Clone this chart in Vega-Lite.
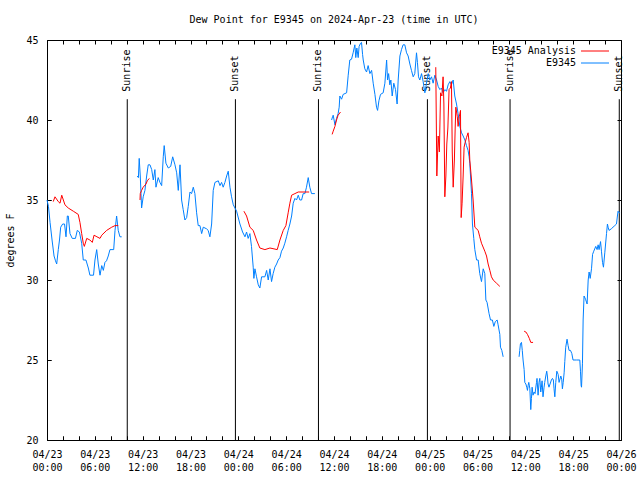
{
  "$schema": "https://vega.github.io/schema/vega-lite/v6.json",
  "width": 574,
  "height": 400,
  "autosize": "none",
  "padding": {"left": 47, "top": 40, "right": 19, "bottom": 40},
  "background": "white",
  "title": {"text": "Dew Point for E9345 on 2024-Apr-23 (time in UTC)", "font": "DejaVu Sans Mono", "fontSize": 10, "fontWeight": "normal", "color": "black", "anchor": "middle", "offset": 10},
  "config": {
    "view": {"stroke": "black", "strokeWidth": 1},
    "font": "DejaVu Sans Mono",
    "axis": {"domain": false, "grid": false, "tickColor": "black", "tickSize": -4, "tickWidth": 1, "labelColor": "black", "labelFont": "DejaVu Sans Mono", "labelFontSize": 10, "titleFont": "DejaVu Sans Mono", "titleFontSize": 10, "titleFontWeight": "normal", "titleColor": "black"}
  },
  "datasets": {
    "obs": [
      {"g":1,"t":"2024-04-23T00:00Z","v":35.0},{"g":1,"t":"2024-04-23T00:11Z","v":34.6},{"g":1,"t":"2024-04-23T00:23Z","v":33.6},{"g":1,"t":"2024-04-23T00:38Z","v":32.5},{"g":1,"t":"2024-04-23T00:53Z","v":31.5},{"g":1,"t":"2024-04-23T01:04Z","v":31.2},{"g":1,"t":"2024-04-23T01:13Z","v":31.0},{"g":1,"t":"2024-04-23T01:25Z","v":31.9},{"g":1,"t":"2024-04-23T01:34Z","v":32.5},{"g":1,"t":"2024-04-23T01:43Z","v":33.3},{"g":1,"t":"2024-04-23T01:58Z","v":33.5},{"g":1,"t":"2024-04-23T02:12Z","v":33.5},{"g":1,"t":"2024-04-23T02:23Z","v":32.7},{"g":1,"t":"2024-04-23T02:33Z","v":34.0},{"g":1,"t":"2024-04-23T02:40Z","v":34.0},{"g":1,"t":"2024-04-23T02:53Z","v":32.9},{"g":1,"t":"2024-04-23T03:10Z","v":32.6},{"g":1,"t":"2024-04-23T03:34Z","v":32.6},{"g":1,"t":"2024-04-23T03:48Z","v":33.1},{"g":1,"t":"2024-04-23T04:04Z","v":33.0},{"g":1,"t":"2024-04-23T04:21Z","v":32.3},{"g":1,"t":"2024-04-23T04:33Z","v":31.25},{"g":1,"t":"2024-04-23T04:53Z","v":31.25},{"g":1,"t":"2024-04-23T05:11Z","v":30.75},{"g":1,"t":"2024-04-23T05:23Z","v":30.3},{"g":1,"t":"2024-04-23T05:50Z","v":30.3},{"g":1,"t":"2024-04-23T06:01Z","v":31.25},{"g":1,"t":"2024-04-23T06:14Z","v":31.9},{"g":1,"t":"2024-04-23T06:26Z","v":31.0},{"g":1,"t":"2024-04-23T06:39Z","v":30.3},{"g":1,"t":"2024-04-23T06:52Z","v":30.9},{"g":1,"t":"2024-04-23T07:04Z","v":30.6},{"g":1,"t":"2024-04-23T07:16Z","v":31.1},{"g":1,"t":"2024-04-23T07:28Z","v":31.2},{"g":1,"t":"2024-04-23T07:41Z","v":31.5},{"g":1,"t":"2024-04-23T07:54Z","v":31.9},{"g":1,"t":"2024-04-23T08:22Z","v":31.9},{"g":1,"t":"2024-04-23T08:32Z","v":33.1},{"g":1,"t":"2024-04-23T08:44Z","v":34.0},{"g":1,"t":"2024-04-23T08:56Z","v":33.1},{"g":1,"t":"2024-04-23T09:09Z","v":32.7},{"g":1,"t":"2024-04-23T09:22Z","v":32.7},
      {"g":2,"t":"2024-04-23T11:19Z","v":36.5},{"g":2,"t":"2024-04-23T11:28Z","v":36.4},{"g":2,"t":"2024-04-23T11:34Z","v":37.6},{"g":2,"t":"2024-04-23T11:42Z","v":36.5},{"g":2,"t":"2024-04-23T11:52Z","v":34.5},{"g":2,"t":"2024-04-23T12:04Z","v":35.2},{"g":2,"t":"2024-04-23T12:17Z","v":35.6},{"g":2,"t":"2024-04-23T12:30Z","v":36.5},{"g":2,"t":"2024-04-23T12:42Z","v":37.2},{"g":2,"t":"2024-04-23T12:55Z","v":37.2},{"g":2,"t":"2024-04-23T13:08Z","v":36.9},{"g":2,"t":"2024-04-23T13:20Z","v":36.25},{"g":2,"t":"2024-04-23T13:32Z","v":36.9},{"g":2,"t":"2024-04-23T13:40Z","v":35.8},{"g":2,"t":"2024-04-23T13:57Z","v":36.4},{"g":2,"t":"2024-04-23T14:10Z","v":36.1},{"g":2,"t":"2024-04-23T14:23Z","v":35.9},{"g":2,"t":"2024-04-23T14:35Z","v":37.7},{"g":2,"t":"2024-04-23T14:42Z","v":38.4},{"g":2,"t":"2024-04-23T14:55Z","v":37.3},{"g":2,"t":"2024-04-23T15:13Z","v":37.0},{"g":2,"t":"2024-04-23T15:31Z","v":37.1},{"g":2,"t":"2024-04-23T15:46Z","v":37.7},{"g":2,"t":"2024-04-23T16:03Z","v":37.2},{"g":2,"t":"2024-04-23T16:16Z","v":36.7},{"g":2,"t":"2024-04-23T16:28Z","v":35.6},{"g":2,"t":"2024-04-23T16:41Z","v":37.2},{"g":2,"t":"2024-04-23T16:53Z","v":35.0},{"g":2,"t":"2024-04-23T17:05Z","v":34.4},{"g":2,"t":"2024-04-23T17:18Z","v":33.75},{"g":2,"t":"2024-04-23T17:31Z","v":33.9},{"g":2,"t":"2024-04-23T17:43Z","v":34.6},{"g":2,"t":"2024-04-23T17:56Z","v":35.5},{"g":2,"t":"2024-04-23T18:08Z","v":35.4},{"g":2,"t":"2024-04-23T18:21Z","v":35.8},{"g":2,"t":"2024-04-23T18:33Z","v":35.4},{"g":2,"t":"2024-04-23T18:46Z","v":34.2},{"g":2,"t":"2024-04-23T18:58Z","v":33.4},{"g":2,"t":"2024-04-23T19:11Z","v":33.4},{"g":2,"t":"2024-04-23T19:24Z","v":32.9},{"g":2,"t":"2024-04-23T19:36Z","v":33.3},{"g":2,"t":"2024-04-23T20:01Z","v":33.2},{"g":2,"t":"2024-04-23T20:13Z","v":33.1},{"g":2,"t":"2024-04-23T20:26Z","v":32.7},{"g":2,"t":"2024-04-23T20:39Z","v":33.5},{"g":2,"t":"2024-04-23T20:51Z","v":35.6},{"g":2,"t":"2024-04-23T21:04Z","v":36.1},{"g":2,"t":"2024-04-23T21:29Z","v":36.2},{"g":2,"t":"2024-04-23T21:42Z","v":35.9},{"g":2,"t":"2024-04-23T21:54Z","v":36.1},{"g":2,"t":"2024-04-23T22:06Z","v":35.8},{"g":2,"t":"2024-04-23T22:19Z","v":36.1},{"g":2,"t":"2024-04-23T22:32Z","v":36.5},{"g":2,"t":"2024-04-23T22:44Z","v":36.8},{"g":2,"t":"2024-04-23T22:57Z","v":35.8},{"g":2,"t":"2024-04-23T23:09Z","v":35.2},{"g":2,"t":"2024-04-23T23:22Z","v":34.7},{"g":2,"t":"2024-04-23T23:47Z","v":34.3},{"g":2,"t":"2024-04-24T00:12Z","v":33.5},{"g":2,"t":"2024-04-24T00:32Z","v":33.0},{"g":2,"t":"2024-04-24T00:50Z","v":32.7},{"g":2,"t":"2024-04-24T01:02Z","v":33.0},{"g":2,"t":"2024-04-24T01:14Z","v":32.6},{"g":2,"t":"2024-04-24T01:27Z","v":32.9},{"g":2,"t":"2024-04-24T01:39Z","v":32.1},{"g":2,"t":"2024-04-24T01:52Z","v":30.8},{"g":2,"t":"2024-04-24T01:57Z","v":30.1},{"g":2,"t":"2024-04-24T02:05Z","v":30.7},{"g":2,"t":"2024-04-24T02:17Z","v":30.2},{"g":2,"t":"2024-04-24T02:30Z","v":29.7},{"g":2,"t":"2024-04-24T02:42Z","v":29.5},{"g":2,"t":"2024-04-24T02:55Z","v":30.2},{"g":2,"t":"2024-04-24T03:20Z","v":30.2},{"g":2,"t":"2024-04-24T03:33Z","v":30.6},{"g":2,"t":"2024-04-24T03:45Z","v":30.0},{"g":2,"t":"2024-04-24T03:58Z","v":30.7},{"g":2,"t":"2024-04-24T04:10Z","v":29.9},{"g":2,"t":"2024-04-24T04:22Z","v":30.4},{"g":2,"t":"2024-04-24T04:35Z","v":30.8},{"g":2,"t":"2024-04-24T04:48Z","v":31.0},{"g":2,"t":"2024-04-24T05:00Z","v":31.25},{"g":2,"t":"2024-04-24T05:13Z","v":31.4},{"g":2,"t":"2024-04-24T05:25Z","v":31.8},{"g":2,"t":"2024-04-24T05:38Z","v":32.0},{"g":2,"t":"2024-04-24T05:50Z","v":32.3},{"g":2,"t":"2024-04-24T06:03Z","v":32.7},{"g":2,"t":"2024-04-24T06:15Z","v":33.1},{"g":2,"t":"2024-04-24T06:28Z","v":33.5},{"g":2,"t":"2024-04-24T06:41Z","v":34.0},{"g":2,"t":"2024-04-24T06:53Z","v":34.8},{"g":2,"t":"2024-04-24T07:06Z","v":35.1},{"g":2,"t":"2024-04-24T07:18Z","v":35.0},{"g":2,"t":"2024-04-24T07:31Z","v":35.3},{"g":2,"t":"2024-04-24T07:43Z","v":35.0},{"g":2,"t":"2024-04-24T07:56Z","v":35.0},{"g":2,"t":"2024-04-24T08:08Z","v":35.4},{"g":2,"t":"2024-04-24T08:21Z","v":35.4},{"g":2,"t":"2024-04-24T08:33Z","v":35.8},{"g":2,"t":"2024-04-24T08:46Z","v":36.4},{"g":2,"t":"2024-04-24T08:58Z","v":35.8},{"g":2,"t":"2024-04-24T09:11Z","v":35.4},{"g":2,"t":"2024-04-24T09:36Z","v":35.4},
      {"g":3,"t":"2024-04-24T11:42Z","v":40.0},{"g":3,"t":"2024-04-24T11:49Z","v":40.2},{"g":3,"t":"2024-04-24T11:54Z","v":40.3},{"g":3,"t":"2024-04-24T12:07Z","v":39.7},{"g":3,"t":"2024-04-24T12:19Z","v":40.1},{"g":3,"t":"2024-04-24T12:31Z","v":40.4},{"g":3,"t":"2024-04-24T12:39Z","v":40.8},{"g":3,"t":"2024-04-24T12:44Z","v":41.5},{"g":3,"t":"2024-04-24T12:57Z","v":41.3},{"g":3,"t":"2024-04-24T13:09Z","v":41.6},{"g":3,"t":"2024-04-24T13:35Z","v":41.7},{"g":3,"t":"2024-04-24T13:47Z","v":42.8},{"g":3,"t":"2024-04-24T13:59Z","v":43.75},{"g":3,"t":"2024-04-24T14:12Z","v":43.8},{"g":3,"t":"2024-04-24T14:24Z","v":44.2},{"g":3,"t":"2024-04-24T14:37Z","v":44.7},{"g":3,"t":"2024-04-24T14:44Z","v":43.9},{"g":3,"t":"2024-04-24T14:52Z","v":44.5},{"g":3,"t":"2024-04-24T15:02Z","v":43.9},{"g":3,"t":"2024-04-24T15:09Z","v":44.6},{"g":3,"t":"2024-04-24T15:20Z","v":44.8},{"g":3,"t":"2024-04-24T15:27Z","v":44.85},{"g":3,"t":"2024-04-24T15:35Z","v":44.1},{"g":3,"t":"2024-04-24T15:40Z","v":43.75},{"g":3,"t":"2024-04-24T15:52Z","v":43.2},{"g":3,"t":"2024-04-24T16:05Z","v":43.0},{"g":3,"t":"2024-04-24T16:17Z","v":43.4},{"g":3,"t":"2024-04-24T16:30Z","v":42.9},{"g":3,"t":"2024-04-24T16:43Z","v":43.1},{"g":3,"t":"2024-04-24T16:55Z","v":42.3},{"g":3,"t":"2024-04-24T17:08Z","v":41.6},{"g":3,"t":"2024-04-24T17:20Z","v":40.8},{"g":3,"t":"2024-04-24T17:28Z","v":40.6},{"g":3,"t":"2024-04-24T17:38Z","v":41.2},{"g":3,"t":"2024-04-24T17:50Z","v":41.6},{"g":3,"t":"2024-04-24T18:10Z","v":41.7},{"g":3,"t":"2024-04-24T18:23Z","v":42.3},{"g":3,"t":"2024-04-24T18:36Z","v":43.75},{"g":3,"t":"2024-04-24T18:43Z","v":42.5},{"g":3,"t":"2024-04-24T18:51Z","v":42.9},{"g":3,"t":"2024-04-24T19:00Z","v":42.2},{"g":3,"t":"2024-04-24T19:08Z","v":42.5},{"g":3,"t":"2024-04-24T19:18Z","v":41.5},{"g":3,"t":"2024-04-24T19:30Z","v":42.3},{"g":3,"t":"2024-04-24T19:43Z","v":41.9},{"g":3,"t":"2024-04-24T19:55Z","v":41.0},{"g":3,"t":"2024-04-24T20:03Z","v":42.5},{"g":3,"t":"2024-04-24T20:16Z","v":44.0},{"g":3,"t":"2024-04-24T20:28Z","v":44.4},{"g":3,"t":"2024-04-24T20:40Z","v":44.7},{"g":3,"t":"2024-04-24T20:53Z","v":44.7},{"g":3,"t":"2024-04-24T21:06Z","v":44.2},{"g":3,"t":"2024-04-24T21:18Z","v":44.0},{"g":3,"t":"2024-04-24T21:31Z","v":43.5},{"g":3,"t":"2024-04-24T21:43Z","v":43.1},{"g":3,"t":"2024-04-24T21:56Z","v":42.7},{"g":3,"t":"2024-04-24T22:08Z","v":42.9},{"g":3,"t":"2024-04-24T22:21Z","v":44.2},{"g":3,"t":"2024-04-24T22:28Z","v":43.6},{"g":3,"t":"2024-04-24T22:36Z","v":42.7},{"g":3,"t":"2024-04-24T22:46Z","v":42.5},{"g":3,"t":"2024-04-24T22:59Z","v":42.9},{"g":3,"t":"2024-04-24T23:11Z","v":42.4},{"g":3,"t":"2024-04-24T23:24Z","v":41.7},{"g":3,"t":"2024-04-24T23:36Z","v":42.3},{"g":3,"t":"2024-04-24T23:49Z","v":42.9},{"g":3,"t":"2024-04-25T00:01Z","v":42.5},{"g":3,"t":"2024-04-25T00:14Z","v":42.7},{"g":3,"t":"2024-04-25T00:26Z","v":42.3},{"g":3,"t":"2024-04-25T00:39Z","v":42.8},{"g":3,"t":"2024-04-25T00:52Z","v":42.5},{"g":3,"t":"2024-04-25T01:04Z","v":42.1},{"g":3,"t":"2024-04-25T01:17Z","v":41.9},{"g":3,"t":"2024-04-25T01:29Z","v":42.0},{"g":3,"t":"2024-04-25T01:41Z","v":41.7},{"g":3,"t":"2024-04-25T01:54Z","v":41.9},{"g":3,"t":"2024-04-25T02:07Z","v":41.8},{"g":3,"t":"2024-04-25T02:19Z","v":42.2},{"g":3,"t":"2024-04-25T02:32Z","v":42.4},{"g":3,"t":"2024-04-25T02:44Z","v":42.2},{"g":3,"t":"2024-04-25T02:57Z","v":42.5},{"g":3,"t":"2024-04-25T03:09Z","v":41.5},{"g":3,"t":"2024-04-25T03:22Z","v":41.0},{"g":3,"t":"2024-04-25T03:34Z","v":40.4},{"g":3,"t":"2024-04-25T03:47Z","v":39.6},{"g":3,"t":"2024-04-25T04:00Z","v":39.2},{"g":3,"t":"2024-04-25T04:12Z","v":39.0},{"g":3,"t":"2024-04-25T04:25Z","v":38.75},{"g":3,"t":"2024-04-25T04:37Z","v":38.4},{"g":3,"t":"2024-04-25T04:49Z","v":38.1},{"g":3,"t":"2024-04-25T04:57Z","v":37.7},{"g":3,"t":"2024-04-25T05:02Z","v":37.3},{"g":3,"t":"2024-04-25T05:15Z","v":35.4},{"g":3,"t":"2024-04-25T05:22Z","v":33.5},{"g":3,"t":"2024-04-25T05:32Z","v":32.6},{"g":3,"t":"2024-04-25T05:40Z","v":31.9},{"g":3,"t":"2024-04-25T05:53Z","v":31.25},{"g":3,"t":"2024-04-25T06:05Z","v":31.25},{"g":3,"t":"2024-04-25T06:17Z","v":30.4},{"g":3,"t":"2024-04-25T06:30Z","v":29.9},{"g":3,"t":"2024-04-25T06:43Z","v":30.7},{"g":3,"t":"2024-04-25T06:55Z","v":30.4},{"g":3,"t":"2024-04-25T07:03Z","v":28.75},{"g":3,"t":"2024-04-25T07:12Z","v":28.6},{"g":3,"t":"2024-04-25T07:27Z","v":27.9},{"g":3,"t":"2024-04-25T07:38Z","v":27.5},{"g":3,"t":"2024-04-25T07:52Z","v":27.5},{"g":3,"t":"2024-04-25T08:03Z","v":27.1},{"g":3,"t":"2024-04-25T08:14Z","v":27.4},{"g":3,"t":"2024-04-25T08:28Z","v":27.5},{"g":3,"t":"2024-04-25T08:35Z","v":27.2},{"g":3,"t":"2024-04-25T08:48Z","v":26.6},{"g":3,"t":"2024-04-25T08:53Z","v":25.8},{"g":3,"t":"2024-04-25T09:03Z","v":25.6},{"g":3,"t":"2024-04-25T09:13Z","v":25.2},
      {"g":4,"t":"2024-04-25T11:13Z","v":25.2},{"g":4,"t":"2024-04-25T11:18Z","v":25.6},{"g":4,"t":"2024-04-25T11:23Z","v":26.0},{"g":4,"t":"2024-04-25T11:31Z","v":26.1},{"g":4,"t":"2024-04-25T11:37Z","v":25.6},{"g":4,"t":"2024-04-25T11:43Z","v":25.0},{"g":4,"t":"2024-04-25T11:51Z","v":24.4},{"g":4,"t":"2024-04-25T11:56Z","v":23.6},{"g":4,"t":"2024-04-25T12:04Z","v":23.5},{"g":4,"t":"2024-04-25T12:11Z","v":23.3},{"g":4,"t":"2024-04-25T12:16Z","v":23.1},{"g":4,"t":"2024-04-25T12:21Z","v":23.4},{"g":4,"t":"2024-04-25T12:26Z","v":23.6},{"g":4,"t":"2024-04-25T12:34Z","v":23.2},{"g":4,"t":"2024-04-25T12:41Z","v":21.9},{"g":4,"t":"2024-04-25T12:46Z","v":22.6},{"g":4,"t":"2024-04-25T12:51Z","v":23.3},{"g":4,"t":"2024-04-25T12:58Z","v":22.8},{"g":4,"t":"2024-04-25T13:06Z","v":23.0},{"g":4,"t":"2024-04-25T13:13Z","v":22.9},{"g":4,"t":"2024-04-25T13:24Z","v":23.6},{"g":4,"t":"2024-04-25T13:28Z","v":23.85},{"g":4,"t":"2024-04-25T13:36Z","v":22.8},{"g":4,"t":"2024-04-25T13:43Z","v":23.6},{"g":4,"t":"2024-04-25T13:49Z","v":23.85},{"g":4,"t":"2024-04-25T13:56Z","v":23.0},{"g":4,"t":"2024-04-25T14:01Z","v":23.3},{"g":4,"t":"2024-04-25T14:06Z","v":23.7},{"g":4,"t":"2024-04-25T14:13Z","v":22.7},{"g":4,"t":"2024-04-25T14:21Z","v":23.3},{"g":4,"t":"2024-04-25T14:26Z","v":23.6},{"g":4,"t":"2024-04-25T14:34Z","v":24.0},{"g":4,"t":"2024-04-25T14:41Z","v":24.3},{"g":4,"t":"2024-04-25T14:46Z","v":24.0},{"g":4,"t":"2024-04-25T14:51Z","v":23.5},{"g":4,"t":"2024-04-25T14:58Z","v":23.3},{"g":4,"t":"2024-04-25T15:06Z","v":23.5},{"g":4,"t":"2024-04-25T15:16Z","v":23.75},{"g":4,"t":"2024-04-25T15:24Z","v":23.85},{"g":4,"t":"2024-04-25T15:31Z","v":23.75},{"g":4,"t":"2024-04-25T15:36Z","v":23.2},{"g":4,"t":"2024-04-25T15:42Z","v":22.7},{"g":4,"t":"2024-04-25T15:49Z","v":23.6},{"g":4,"t":"2024-04-25T15:57Z","v":24.3},{"g":4,"t":"2024-04-25T16:07Z","v":24.1},{"g":4,"t":"2024-04-25T16:14Z","v":23.6},{"g":4,"t":"2024-04-25T16:19Z","v":23.75},{"g":4,"t":"2024-04-25T16:27Z","v":24.0},{"g":4,"t":"2024-04-25T16:34Z","v":23.8},{"g":4,"t":"2024-04-25T16:39Z","v":23.2},{"g":4,"t":"2024-04-25T16:45Z","v":23.6},{"g":4,"t":"2024-04-25T16:52Z","v":24.2},{"g":4,"t":"2024-04-25T16:57Z","v":24.9},{"g":4,"t":"2024-04-25T17:04Z","v":25.8},{"g":4,"t":"2024-04-25T17:14Z","v":26.3},{"g":4,"t":"2024-04-25T17:22Z","v":25.9},{"g":4,"t":"2024-04-25T17:29Z","v":25.6},{"g":4,"t":"2024-04-25T17:40Z","v":25.6},{"g":4,"t":"2024-04-25T17:50Z","v":25.4},{"g":4,"t":"2024-04-25T17:59Z","v":25.0},{"g":4,"t":"2024-04-25T18:25Z","v":25.0},{"g":4,"t":"2024-04-25T18:50Z","v":25.0},{"g":4,"t":"2024-04-25T18:55Z","v":24.3},{"g":4,"t":"2024-04-25T19:00Z","v":23.4},{"g":4,"t":"2024-04-25T19:03Z","v":23.3},{"g":4,"t":"2024-04-25T19:10Z","v":24.8},{"g":4,"t":"2024-04-25T19:15Z","v":27.5},{"g":4,"t":"2024-04-25T19:22Z","v":29.0},{"g":4,"t":"2024-04-25T19:33Z","v":28.8},{"g":4,"t":"2024-04-25T19:45Z","v":28.5},{"g":4,"t":"2024-04-25T19:53Z","v":30.0},{"g":4,"t":"2024-04-25T20:00Z","v":30.5},{"g":4,"t":"2024-04-25T20:08Z","v":30.1},{"g":4,"t":"2024-04-25T20:18Z","v":30.7},{"g":4,"t":"2024-04-25T20:26Z","v":31.6},{"g":4,"t":"2024-04-25T20:35Z","v":31.8},{"g":4,"t":"2024-04-25T20:50Z","v":32.1},{"g":4,"t":"2024-04-25T21:00Z","v":31.9},{"g":4,"t":"2024-04-25T21:08Z","v":32.2},{"g":4,"t":"2024-04-25T21:15Z","v":31.9},{"g":4,"t":"2024-04-25T21:26Z","v":32.4},{"g":4,"t":"2024-04-25T21:33Z","v":31.8},{"g":4,"t":"2024-04-25T21:41Z","v":31.1},{"g":4,"t":"2024-04-25T21:48Z","v":30.8},{"g":4,"t":"2024-04-25T21:58Z","v":31.7},{"g":4,"t":"2024-04-25T22:11Z","v":32.9},{"g":4,"t":"2024-04-25T22:18Z","v":33.5},{"g":4,"t":"2024-04-25T22:23Z","v":33.3},{"g":4,"t":"2024-04-25T22:30Z","v":33.1},{"g":4,"t":"2024-04-25T22:47Z","v":33.2},{"g":4,"t":"2024-04-25T23:00Z","v":33.3},{"g":4,"t":"2024-04-25T23:13Z","v":33.4},{"g":4,"t":"2024-04-25T23:26Z","v":33.5},{"g":4,"t":"2024-04-25T23:33Z","v":34.0},{"g":4,"t":"2024-04-25T23:38Z","v":34.3},{"g":4,"t":"2024-04-25T23:46Z","v":34.2},{"g":4,"t":"2024-04-25T23:53Z","v":34.2}
    ],
    "ana": [
      {"g":1,"t":"2024-04-23T00:47Z","v":34.9},{"g":1,"t":"2024-04-23T01:00Z","v":35.2},{"g":1,"t":"2024-04-23T01:25Z","v":34.9},{"g":1,"t":"2024-04-23T01:38Z","v":34.8},{"g":1,"t":"2024-04-23T01:51Z","v":35.3},{"g":1,"t":"2024-04-23T02:15Z","v":34.7},{"g":1,"t":"2024-04-23T02:40Z","v":34.5},{"g":1,"t":"2024-04-23T03:18Z","v":34.3},{"g":1,"t":"2024-04-23T03:55Z","v":34.1},{"g":1,"t":"2024-04-23T04:08Z","v":33.6},{"g":1,"t":"2024-04-23T04:21Z","v":32.9},{"g":1,"t":"2024-04-23T04:33Z","v":32.3},{"g":1,"t":"2024-04-23T04:41Z","v":32.1},{"g":1,"t":"2024-04-23T04:59Z","v":32.6},{"g":1,"t":"2024-04-23T05:23Z","v":32.5},{"g":1,"t":"2024-04-23T05:41Z","v":32.35},{"g":1,"t":"2024-04-23T05:54Z","v":32.8},{"g":1,"t":"2024-04-23T06:16Z","v":32.7},{"g":1,"t":"2024-04-23T06:39Z","v":32.6},{"g":1,"t":"2024-04-23T06:52Z","v":32.8},{"g":1,"t":"2024-04-23T07:29Z","v":33.1},{"g":1,"t":"2024-04-23T08:07Z","v":33.3},{"g":1,"t":"2024-04-23T08:32Z","v":33.4},{"g":1,"t":"2024-04-23T08:56Z","v":33.4},
      {"g":2,"t":"2024-04-23T11:40Z","v":35.0},{"g":2,"t":"2024-04-23T11:42Z","v":35.4},{"g":2,"t":"2024-04-23T11:52Z","v":35.6},{"g":2,"t":"2024-04-23T12:04Z","v":35.8},{"g":2,"t":"2024-04-23T12:25Z","v":36.0},{"g":2,"t":"2024-04-23T12:35Z","v":36.2},{"g":2,"t":"2024-04-23T12:50Z","v":36.35},
      {"g":3,"t":"2024-04-24T00:42Z","v":34.3},{"g":3,"t":"2024-04-24T01:02Z","v":34.0},{"g":3,"t":"2024-04-24T01:27Z","v":33.3},{"g":3,"t":"2024-04-24T01:52Z","v":33.1},{"g":3,"t":"2024-04-24T02:17Z","v":32.5},{"g":3,"t":"2024-04-24T02:42Z","v":32.0},{"g":3,"t":"2024-04-24T03:20Z","v":31.9},{"g":3,"t":"2024-04-24T03:58Z","v":32.0},{"g":3,"t":"2024-04-24T04:53Z","v":31.9},{"g":3,"t":"2024-04-24T05:13Z","v":32.5},{"g":3,"t":"2024-04-24T05:38Z","v":33.1},{"g":3,"t":"2024-04-24T05:58Z","v":33.4},{"g":3,"t":"2024-04-24T06:15Z","v":34.2},{"g":3,"t":"2024-04-24T06:28Z","v":34.8},{"g":3,"t":"2024-04-24T06:41Z","v":35.3},{"g":3,"t":"2024-04-24T07:06Z","v":35.4},{"g":3,"t":"2024-04-24T07:31Z","v":35.5},{"g":3,"t":"2024-04-24T08:53Z","v":35.5},
      {"g":4,"t":"2024-04-24T11:46Z","v":39.1},{"g":4,"t":"2024-04-24T11:54Z","v":39.3},{"g":4,"t":"2024-04-24T12:07Z","v":39.6},{"g":4,"t":"2024-04-24T12:19Z","v":40.0},{"g":4,"t":"2024-04-24T12:31Z","v":40.3},{"g":4,"t":"2024-04-24T12:49Z","v":40.5},
      {"g":5,"t":"2024-04-25T00:46Z","v":43.3},{"g":5,"t":"2024-04-25T00:54Z","v":36.5},{"g":5,"t":"2024-04-25T01:04Z","v":39.0},{"g":5,"t":"2024-04-25T01:13Z","v":38.0},{"g":5,"t":"2024-04-25T01:22Z","v":41.7},{"g":5,"t":"2024-04-25T01:32Z","v":41.5},{"g":5,"t":"2024-04-25T01:41Z","v":42.7},{"g":5,"t":"2024-04-25T01:47Z","v":41.0},{"g":5,"t":"2024-04-25T01:54Z","v":35.2},{"g":5,"t":"2024-04-25T02:02Z","v":36.5},{"g":5,"t":"2024-04-25T02:09Z","v":38.5},{"g":5,"t":"2024-04-25T02:17Z","v":39.5},{"g":5,"t":"2024-04-25T02:26Z","v":41.9},{"g":5,"t":"2024-04-25T02:36Z","v":42.0},{"g":5,"t":"2024-04-25T02:44Z","v":42.4},{"g":5,"t":"2024-04-25T02:50Z","v":38.0},{"g":5,"t":"2024-04-25T02:57Z","v":35.8},{"g":5,"t":"2024-04-25T03:06Z","v":37.5},{"g":5,"t":"2024-04-25T03:12Z","v":39.5},{"g":5,"t":"2024-04-25T03:17Z","v":40.8},{"g":5,"t":"2024-04-25T03:28Z","v":40.2},{"g":5,"t":"2024-04-25T03:34Z","v":39.6},{"g":5,"t":"2024-04-25T03:43Z","v":40.2},{"g":5,"t":"2024-04-25T03:52Z","v":40.6},{"g":5,"t":"2024-04-25T03:57Z","v":33.9},{"g":5,"t":"2024-04-25T04:04Z","v":34.8},{"g":5,"t":"2024-04-25T04:12Z","v":36.5},{"g":5,"t":"2024-04-25T04:19Z","v":38.3},{"g":5,"t":"2024-04-25T04:27Z","v":38.6},{"g":5,"t":"2024-04-25T04:37Z","v":38.9},{"g":5,"t":"2024-04-25T04:49Z","v":39.2},{"g":5,"t":"2024-04-25T04:57Z","v":38.6},{"g":5,"t":"2024-04-25T05:02Z","v":37.5},{"g":5,"t":"2024-04-25T05:15Z","v":36.25},{"g":5,"t":"2024-04-25T05:27Z","v":35.0},{"g":5,"t":"2024-04-25T05:40Z","v":33.3},{"g":5,"t":"2024-04-25T06:05Z","v":33.1},{"g":5,"t":"2024-04-25T06:17Z","v":32.7},{"g":5,"t":"2024-04-25T06:30Z","v":32.3},{"g":5,"t":"2024-04-25T06:55Z","v":31.8},{"g":5,"t":"2024-04-25T07:08Z","v":31.5},{"g":5,"t":"2024-04-25T07:20Z","v":31.0},{"g":5,"t":"2024-04-25T07:33Z","v":30.6},{"g":5,"t":"2024-04-25T07:45Z","v":30.2},{"g":5,"t":"2024-04-25T07:58Z","v":30.0},{"g":5,"t":"2024-04-25T08:23Z","v":29.8},{"g":5,"t":"2024-04-25T08:48Z","v":29.6},
      {"g":6,"t":"2024-04-25T11:51Z","v":26.8},{"g":6,"t":"2024-04-25T12:04Z","v":26.75},{"g":6,"t":"2024-04-25T12:16Z","v":26.6},{"g":6,"t":"2024-04-25T12:30Z","v":26.35},{"g":6,"t":"2024-04-25T12:41Z","v":26.1},{"g":6,"t":"2024-04-25T12:58Z","v":26.1}
    ],
    "sun": [
      {"t":"2024-04-23T10:04Z","e":"Sunrise"},{"t":"2024-04-23T23:38Z","e":"Sunset"},{"t":"2024-04-24T10:03Z","e":"Sunrise"},{"t":"2024-04-24T23:43Z","e":"Sunset"},{"t":"2024-04-25T10:05Z","e":"Sunrise"},{"t":"2024-04-25T23:47Z","e":"Sunset"}
    ]
  },
  "layer": [
    {
      "data": {"name": "sun"},
      "mark": {"type": "rule", "color": "black", "strokeWidth": 1},
      "encoding": {
        "x": {"field": "t", "type": "temporal"},
        "y": {"datum": 20, "type": "quantitative"},
        "y2": {"datum": 41.3}
      }
    },
    {
      "data": {"name": "sun"},
      "mark": {"type": "text", "angle": 270, "align": "left", "baseline": "middle", "font": "DejaVu Sans Mono", "fontSize": 10, "color": "black"},
      "encoding": {
        "x": {"field": "t", "type": "temporal"},
        "y": {"datum": 41.77, "type": "quantitative"},
        "text": {"field": "e"}
      }
    },
    {
      "data": {"name": "obs"},
      "mark": {"type": "line", "strokeWidth": 1},
      "encoding": {
        "x": {"field": "t", "type": "temporal", "scale": {"type": "utc", "domain": [1713830400000, 1714089600000], "nice": false}, "axis": {"orient": "bottom", "title": null, "tickCount": 40, "values": {"expr": "sequence(1713830400000, 1714089600001, 7200000)"}, "labelExpr": "utchours(datum.value) % 6 == 0 ? [utcFormat(datum.value, '%m/%d'), utcFormat(datum.value, '%H:%M')] : ''", "labelOverlap": false, "labelFlush": false, "labelBound": false, "labelPadding": 13, "labelLineHeight": 13, "labelBaseline": "top", "grid": true, "gridColor": "black", "gridWidth": 1, "gridOpacity": 1, "gridDash": [4, 392, 4]}},
        "y": {"field": "v", "type": "quantitative", "scale": {"domain": [20, 45], "nice": false, "zero": false}, "axis": {"orient": "left", "title": "degrees F", "values": [20, 25, 30, 35, 40, 45], "labelPadding": 13, "titlePadding": 10, "grid": true, "gridColor": "black", "gridWidth": 1, "gridOpacity": 1, "gridDash": [4, 566, 4]}},
        "color": {"datum": "E9345", "type": "nominal", "scale": {"domain": ["E9345 Analysis", "E9345"], "range": ["#ff0000", "#0080ff"]}, "legend": {"title": null, "orient": "none", "legendX": 543, "legendY": 6, "symbolType": "M-5,0H5", "symbolSize": 31.36, "symbolStrokeWidth": 1, "labelAlign": "right", "labelOffset": -24, "labelFont": "DejaVu Sans Mono", "labelFontSize": 10, "labelColor": "black", "rowPadding": 2, "padding": 0}},
        "detail": {"field": "g", "type": "nominal"}
      }
    },
    {
      "data": {"name": "ana"},
      "mark": {"type": "line", "strokeWidth": 1},
      "encoding": {
        "x": {"field": "t", "type": "temporal"},
        "y": {"field": "v", "type": "quantitative"},
        "color": {"datum": "E9345 Analysis", "type": "nominal"},
        "detail": {"field": "g", "type": "nominal"}
      }
    }
  ]
}
